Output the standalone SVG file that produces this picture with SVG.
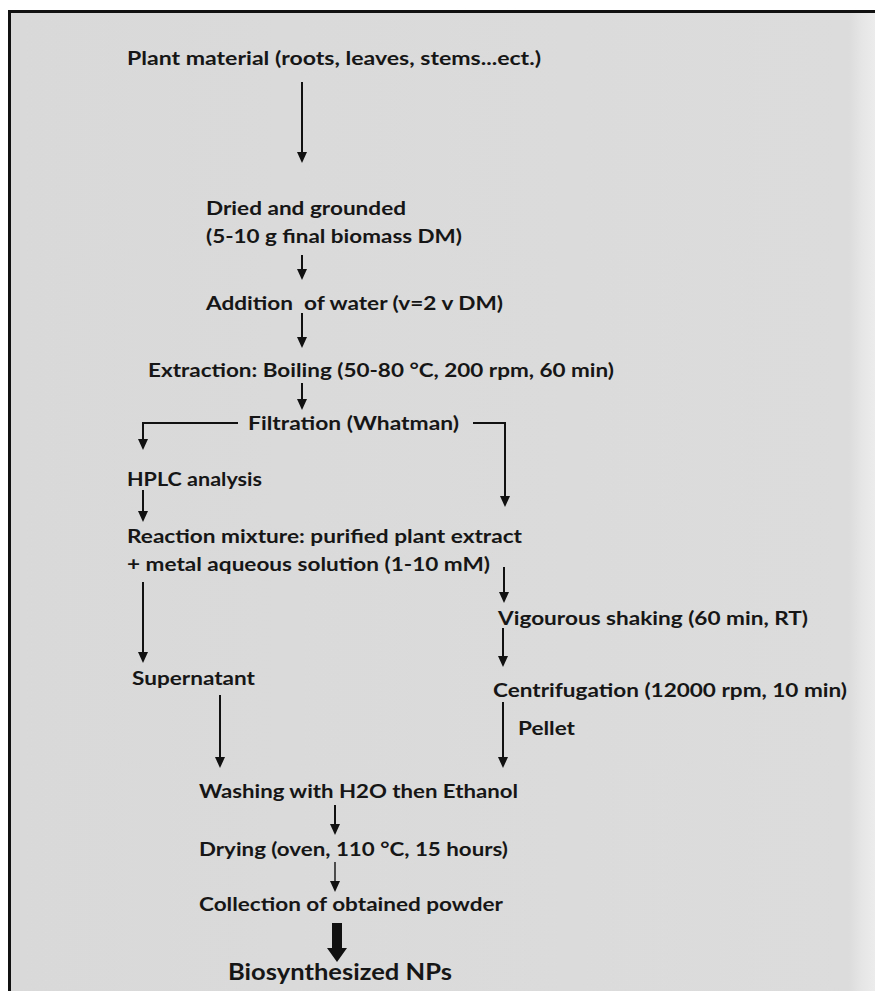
<svg xmlns="http://www.w3.org/2000/svg" width="875" height="991" viewBox="0 0 875 991">
  <defs>
    <linearGradient id="bg" x1="0" y1="0" x2="1" y2="0">
      <stop offset="0" stop-color="#d9d9d9"/>
      <stop offset="0.97" stop-color="#dcdcdc"/>
      <stop offset="0.985" stop-color="#e6e6e6"/>
      <stop offset="1" stop-color="#ececec"/>
    </linearGradient>
    <marker id="ah" markerWidth="11" markerHeight="10" refX="3" refY="5" orient="auto" markerUnits="userSpaceOnUse" viewBox="0 0 11 10">
      <path d="M0,0 L11,5 L0,10 Z" fill="#111"/>
    </marker>
    <style>
      .t { font-family: Lato, "Open Sans", "Liberation Sans", sans-serif; font-weight: bold; font-size: 19px; fill: #161616; white-space: pre; }
      .big { font-size: 23px; }
      .c { fill: none; stroke: #111; stroke-width: 2; }
      .thin { stroke-width: 1.4; }
    </style>
  </defs>
  <rect x="0" y="0" width="875" height="991" fill="#ffffff"/>
  <rect x="10" y="12" width="865" height="979" fill="url(#bg)"/>
  <path d="M9.5,991 V11.5 H875" fill="none" stroke="#111" stroke-width="3"/>

  <g id="connectors">
    <path class="c" d="M302,82 V155" marker-end="url(#ah)"/>
    <path class="c" d="M302,255 V272" marker-end="url(#ah)"/>
    <path class="c" d="M302,313 V340" marker-end="url(#ah)"/>
    <path class="c" d="M302,383 V402" marker-end="url(#ah)"/>
    <path class="c" d="M238,423 H143 V442" marker-end="url(#ah)"/>
    <path class="c" d="M473,423 H505 V499" marker-end="url(#ah)"/>
    <path class="c" d="M143,490 V514" marker-end="url(#ah)"/>
    <path class="c" d="M143,582 V655" marker-end="url(#ah)"/>
    <path class="c" d="M504,567 V595" marker-end="url(#ah)"/>
    <path class="c" d="M503,628 V659" marker-end="url(#ah)"/>
    <path class="c" d="M503,702 V760" marker-end="url(#ah)"/>
    <path class="c" d="M220,695 V760" marker-end="url(#ah)"/>
    <path class="c" d="M335,805 V827" marker-end="url(#ah)"/>
    <path class="c thin" d="M335,862 V884" marker-end="url(#ah)"/>
    <path d="M332,923 H342 V948 H347 L337,962 L327,948 H332 Z" fill="#111"/>
  </g>

  <g id="n1"><text class="t" x="127" y="65" textLength="414" lengthAdjust="spacingAndGlyphs">Plant material (roots, leaves, stems...ect.)</text></g>
  <g id="n2">
    <text class="t" x="206" y="215" textLength="200" lengthAdjust="spacingAndGlyphs">Dried and grounded</text>
    <text class="t" x="206" y="243" textLength="256" lengthAdjust="spacingAndGlyphs">(5-10 g final biomass DM)</text>
  </g>
  <g id="n3"><text class="t" x="206" y="310" textLength="297" lengthAdjust="spacingAndGlyphs">Addition  of water (v=2 v DM)</text></g>
  <g id="n4"><text class="t" x="148" y="377" textLength="466" lengthAdjust="spacingAndGlyphs">Extraction: Boiling (50-80 °C, 200 rpm, 60 min)</text></g>
  <g id="n5"><text class="t" x="248" y="430" textLength="211" lengthAdjust="spacingAndGlyphs">Filtration (Whatman)</text></g>
  <g id="n6"><text class="t" x="127" y="486" textLength="135" lengthAdjust="spacingAndGlyphs">HPLC analysis</text></g>
  <g id="n7">
    <text class="t" x="127" y="543" textLength="395" lengthAdjust="spacingAndGlyphs">Reaction mixture: purified plant extract</text>
    <text class="t" x="127" y="571" textLength="363" lengthAdjust="spacingAndGlyphs">+ metal aqueous solution (1-10 mM)</text>
  </g>
  <g id="n8"><text class="t" x="498" y="625" textLength="310" lengthAdjust="spacingAndGlyphs">Vigourous shaking (60 min, RT)</text></g>
  <g id="n9"><text class="t" x="132" y="685" textLength="123" lengthAdjust="spacingAndGlyphs">Supernatant</text></g>
  <g id="n10"><text class="t" x="493" y="697" textLength="354" lengthAdjust="spacingAndGlyphs">Centrifugation (12000 rpm, 10 min)</text></g>
  <g id="n11"><text class="t" x="518" y="735" textLength="57" lengthAdjust="spacingAndGlyphs">Pellet</text></g>
  <g id="n12"><text class="t" x="199" y="798" textLength="319" lengthAdjust="spacingAndGlyphs">Washing with H2O then Ethanol</text></g>
  <g id="n13"><text class="t" x="199" y="856" textLength="309" lengthAdjust="spacingAndGlyphs">Drying (oven, 110 °C, 15 hours)</text></g>
  <g id="n14"><text class="t" x="199" y="911" textLength="304" lengthAdjust="spacingAndGlyphs">Collection of obtained powder</text></g>
  <g id="n15"><text class="t big" x="228" y="980" textLength="224" lengthAdjust="spacingAndGlyphs">Biosynthesized NPs</text></g>
</svg>
